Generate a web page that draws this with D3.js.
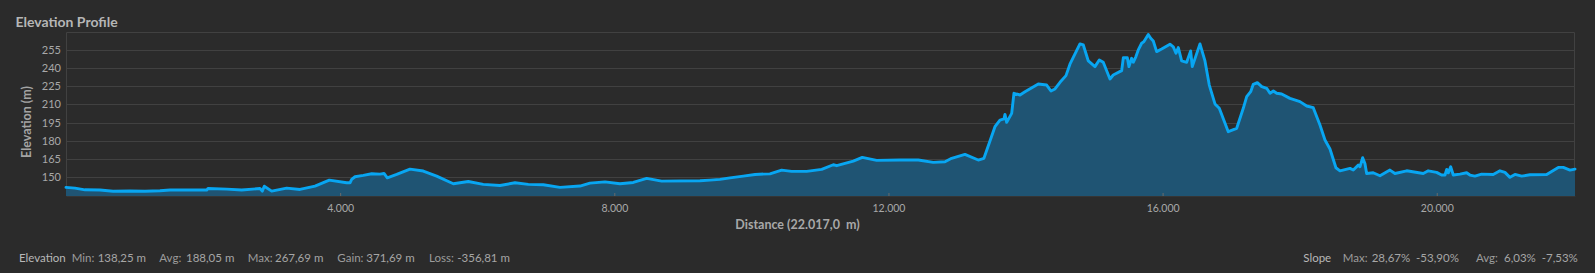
<!DOCTYPE html>
<html><head><meta charset="utf-8">
<script src="https://cdn.jsdelivr.net/npm/d3@7"></script>
<style>html,body{margin:0;padding:0;background:#2b2b2b;overflow:hidden}svg{display:block}</style>
</head><body><svg id="chart" width="1595" height="273"></svg>
<script>
// ---- data (distance in m, elevation in m) ----
const distance = [0,131,277,496,686,934,1153,1371,1517,2053,2072,2345,2563,2830,2864,2893,3001,3220,3414,3633,3842,4095,4144,4168,4217,4338,4461,4581,4640,4688,4825,5019,5213,5408,5651,5870,6088,6332,6551,6745,6964,7207,7499,7645,7864,8083,8277,8473,8691,9250,9396,9542,9688,9882,10053,10271,10442,10588,10807,11026,11195,11245,11487,11618,11828,12168,12435,12654,12825,12922,13116,13310,13393,13554,13627,13685,13700,13725,13798,13831,13919,13992,14186,14308,14371,14430,14503,14590,14648,14794,14843,14916,15013,15076,15134,15232,15280,15403,15427,15485,15509,15548,15572,15611,15645,15694,15728,15791,15826,15864,15913,15986,16107,16156,16195,16229,16278,16351,16409,16433,16545,16618,16681,16764,16827,16958,17081,17177,17227,17285,17323,17382,17446,17519,17567,17616,17665,17737,17858,18004,18102,18198,18296,18369,18442,18529,18588,18734,18782,18855,18879,18919,18952,18977,19073,19171,19317,19390,19561,19803,19876,19998,20071,20120,20145,20168,20203,20241,20339,20436,20484,20557,20655,20824,20922,20995,21068,21141,21239,21360,21604,21773,21846,21944,22017];
const elevation = [141.5,140.9,139.5,139.3,138.3,138.5,138.3,138.7,139.3,139.3,140.6,140.1,139.3,140.6,138.4,142.5,138.4,140.9,139.8,142.6,147.5,145.3,145.3,148.1,150.3,151.4,152.8,152.5,153.0,149.4,152.2,156.6,155.0,150.8,144.5,146.4,144.0,143.1,145.3,144.0,143.7,141.5,142.6,145.0,146.1,144.5,145.6,148.9,146.7,147.0,147.5,148.1,149.4,150.8,152.2,152.7,155.8,154.7,154.7,156.4,160.2,159.4,163.2,166.3,163.8,164.1,164.1,162.2,162.7,165.5,168.8,164.1,165.5,191.6,197.1,198.0,201.8,195.2,202.6,219.2,217.8,220.5,226.9,226.0,221.1,222.8,228.3,233.8,243.2,260.0,259.1,245.9,241.2,246.7,244.8,231.0,234.3,237.9,248.6,248.6,241.2,248.1,244.8,249.5,255.0,260.5,261.9,267.7,264.7,262.4,253.6,255.8,259.7,257.5,252.3,256.9,245.9,244.8,254.2,241.2,260.0,245.9,226.0,210.4,206.8,187.5,190.3,206.8,216.4,220.5,226.6,228.0,224.7,223.3,219.2,221.1,219.2,218.6,215.0,212.3,208.7,207.3,193.0,180.6,173.2,157.7,155.2,157.2,155.8,159.9,158.5,166.0,161.3,153.0,153.6,151.1,155.8,153.0,155.2,153.0,155.2,153.9,151.7,151.7,156.3,153.5,158.5,151.7,152.5,153.6,151.7,150.8,152.5,152.2,155.2,153.9,149.8,152.2,150.8,151.9,152.2,158.0,158.0,155.8,156.6];
const totalDistance = 22017;
const yTickValues = [150,165,180,195,210,225,240,255];
const xTickValues = [4000,8000,12000,16000,20000];
const chartTitle = "Elevation Profile";
const yAxisTitle = "Elevation (m)";
const xAxisTitle = "Distance (22.017,0  m)";
const elevationStatHeader = "Elevation";
const elevationStatLabels = ["Min:","Avg:","Max:","Gain:","Loss:"];
const elevationStatValues = ["138,25 m","188,05 m","267,69 m","371,69 m","-356,81 m"];
const slopeStatHeader = "Slope";
const slopeStatLabels = ["Max:","Avg:"];
const slopeStatValues = ["28,67%  -53,90%","6,03%  -7,53%"];

// ---- layout ----
const W = 1595, H = 273;
const M = {left:66, right:1575, top:32, bottom:196};
const svg = d3.select("#chart");
const FONT = "Lato, 'Open Sans', sans-serif";
svg.append("rect").attr("width",W).attr("height",H).attr("fill","#2b2b2b");

const x = d3.scaleLinear().domain([0,totalDistance]).range([M.left,M.right]);
const y = d3.scaleLinear().domain([134.4,269.8]).range([M.bottom,M.top]);
const data = distance.map((d,i)=>({d, e:elevation[i]}));

// grid
svg.append("g").selectAll("line").data(yTickValues).join("line")
  .attr("x1",M.left).attr("x2",M.right)
  .attr("y1",d=>Math.round(y(d))+0.5).attr("y2",d=>Math.round(y(d))+0.5)
  .attr("stroke","#414141").attr("stroke-width",1);
// frame
svg.append("path")
  .attr("d",`M${M.left+0.5},${M.bottom}V${M.top+0.5}H${M.right-0.5}V${M.bottom}`)
  .attr("fill","none").attr("stroke","#414141");

// area + line
const area = d3.area().x(p=>x(p.d)).y0(M.bottom).y1(p=>y(p.e)).curve(d3.curveLinear);
const line = d3.line().x(p=>x(p.d)).y(p=>y(p.e)).curve(d3.curveLinear);
svg.append("path").datum(data).attr("d",area).attr("fill","#1f5473");
svg.append("path").datum(data).attr("d",line).attr("fill","none")
  .attr("stroke","#08a6f2").attr("stroke-width",2.9).attr("stroke-linejoin","round").attr("stroke-linecap","round");

// bottom axis
const loc = d3.formatLocale({decimal:",",thousands:".",grouping:[3],currency:["",""]});
const fmt = loc.format(",.0f");
const xAxis = d3.axisBottom(x).tickValues(xTickValues).tickFormat(fmt).tickSizeInner(-3).tickSizeOuter(0).tickPadding(7);
const gx = svg.append("g").attr("transform",`translate(0,${M.bottom})`).call(xAxis);
gx.select(".domain").attr("stroke","#353535");
gx.selectAll(".tick line").attr("stroke","#6a6a6a");
gx.selectAll(".tick text").attr("fill","#a8a8a8").attr("font-family",FONT).attr("font-size","10.5px").attr("dy","0.85em");

// left axis labels
const yAxis = d3.axisLeft(y).tickValues(yTickValues).tickSize(0).tickPadding(5);
const gy = svg.append("g").attr("transform",`translate(${M.left},0)`).call(yAxis);
gy.select(".domain").remove();
gy.selectAll(".tick text").attr("fill","#a8a8a8").attr("font-family",FONT).attr("font-size","11px");

// titles
svg.append("text").attr("x",15.5).attr("y",27).text(chartTitle)
  .attr("fill","#b6b6b6").attr("font-family",FONT).attr("font-weight","bold").attr("font-size","14px");
svg.append("text").attr("transform","translate(31,122) rotate(-90)").attr("text-anchor","middle")
  .text(yAxisTitle).attr("fill","#a4a4a4").attr("font-family",FONT).attr("font-weight","bold").attr("font-size","12.5px");
svg.append("text").attr("x",W/2).attr("y",228.5).attr("text-anchor","middle").style("white-space","pre")
  .text(xAxisTitle).attr("fill","#a8a8a8").attr("font-family",FONT).attr("font-weight","bold").attr("font-size","12.5px");

// stats
const statY = 262;
const stat = (txt,xp,col)=>svg.append("text").attr("x",xp).attr("y",statY).style("white-space","pre").text(txt)
  .attr("fill",col).attr("font-family",FONT).attr("font-size","11.5px");
stat(elevationStatHeader,19,"#b8b8b8");
const elLabelX = [71.7,159.3,247.7,337.3,429];
const elValueX = [97.7,186,275,366.3,457.3];
elevationStatLabels.forEach((l,i)=>stat(l,elLabelX[i],"#9c9c9c"));
elevationStatValues.forEach((v,i)=>stat(v,elValueX[i],"#a6a6a6"));
stat(slopeStatHeader,1303.3,"#b8b8b8");
const slLabelX = [1342.7,1476];
const slValueX = [1371.7,1504];
slopeStatLabels.forEach((l,i)=>stat(l,slLabelX[i],"#9c9c9c"));
slopeStatValues.forEach((v,i)=>stat(v,slValueX[i],"#a6a6a6"));
</script></body></html>
